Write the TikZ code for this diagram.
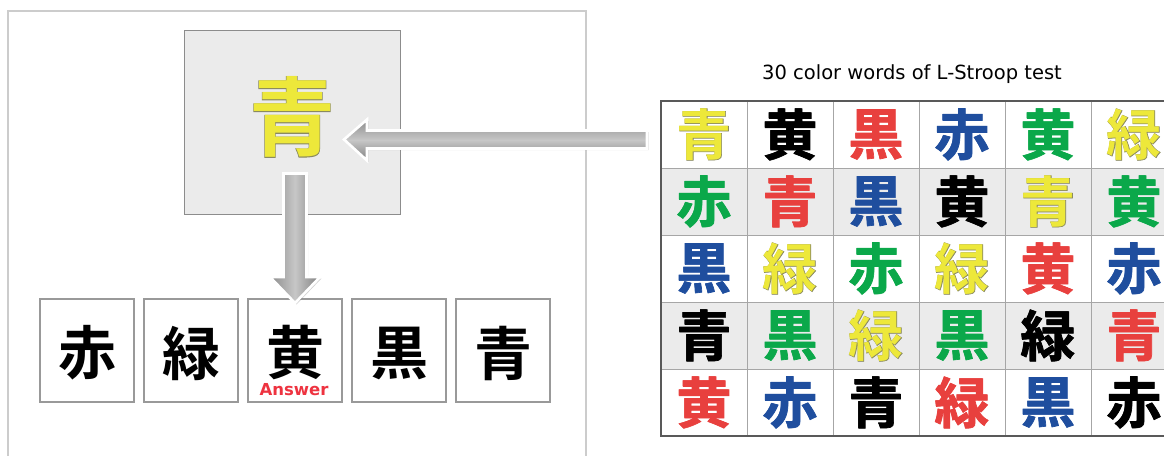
\documentclass[tikz,border=0pt]{standalone}
\usepackage{fontspec}
\setmainfont{DejaVu Sans}
\newfontfamily\jpb{Noto Sans CJK JP Bold}
\newfontfamily\jpout{Noto Sans CJK JP Bold}[FakeBold=1.2]
\usetikzlibrary{shadows}
\definecolor{yel}{HTML}{EDE83A}
\definecolor{yelO}{HTML}{8A8A60}
\definecolor{red}{HTML}{E8403E}
\definecolor{redO}{HTML}{E8403E}
\definecolor{blu}{HTML}{1F4E9E}
\definecolor{bluO}{HTML}{1F4E9E}
\definecolor{grn}{HTML}{0BA84A}
\definecolor{grnO}{HTML}{0BA84A}
\definecolor{blk}{HTML}{000000}
\definecolor{blkO}{HTML}{000000}
\definecolor{panel}{HTML}{EBEBEB}
\definecolor{ansred}{HTML}{EE3340}
\tikzset{
  gch/.style={font=\jpb\fontsize{55}{55}\selectfont, inner sep=0pt},
  bch/.style={font=\jpb\fontsize{58}{58}\selectfont, inner sep=0pt, text=black},
  choice/.style={draw=black!40, line width=1.5pt, fill=white, minimum width=94pt, minimum height=103pt, inner sep=0pt,
     drop shadow={shadow xshift=1pt, shadow yshift=-1pt, opacity=0.25}},
  blockarrow/.style={draw=white, line width=2.6pt, line join=miter,
     drop shadow={shadow xshift=1.5pt, shadow yshift=-1.5pt, opacity=0.35}},
  gridline/.style={draw=black!35, line width=0.8pt},
}
\begin{document}
\begin{tikzpicture}[x=1pt,y=-1pt]
\useasboundingbox (0,0) rectangle (1164,455);
\begin{scope}
\clip (0,0) rectangle (1164,455);
% outer frame
\draw[black!20, line width=2pt] (7.5,11) rectangle (586,470);
% stimulus panel
\node[draw=black!45, line width=1pt, fill=panel, minimum width=216pt, minimum height=184pt, inner sep=0pt] (panel) at (292,122) {};
\node[font=\jpout\fontsize{86}{86}\selectfont, inner sep=0pt, text=yelO] at (292,117) {青};
\node[font=\jpb\fontsize{86}{86}\selectfont, inner sep=0pt, text=yel] (stim) at (292,117) {青};
% choice boxes
\foreach \i/\x/\ch in {1/87/赤,2/191/緑,3/295/黄,4/399/黒,5/503/青}{
  \node[choice] (c\i) at (\x,350.5) {};
  \node[bch] (k\i) at (\x,353) {\ch};
}
\node[font=\bfseries\fontsize{16.5}{16.5}\selectfont, text=ansred, inner sep=0pt] (ans) at (294,390) {Answer};
% title
\node[font=\fontsize{19.5}{19.5}\selectfont, inner sep=0pt] (title) at (912,74) {30 color words of L-Stroop test};
% grid
\fill[panel] (661,168) rectangle (1190,235);
\fill[panel] (661,302) rectangle (1190,369);
\foreach \k in {1,...,5}{ \draw[gridline] ({661+86*\k},101) -- ({661+86*\k},436); }
\foreach \k in {1,...,4}{ \draw[gridline] (661,{101+67*\k}) -- (1190,{101+67*\k}); }
\draw[black!65, line width=1.2pt] (1190,101) -- (661,101) -- (661,436) -- (1190,436);
\foreach \r/\c/\ch/\col in {
  1/1/青/yel,1/2/黄/blk,1/3/黒/red,1/4/赤/blu,1/5/黄/grn,1/6/緑/yel,
  2/1/赤/grn,2/2/青/red,2/3/黒/blu,2/4/黄/blk,2/5/青/yel,2/6/黄/grn,
  3/1/黒/blu,3/2/緑/yel,3/3/赤/grn,3/4/緑/yel,3/5/黄/red,3/6/赤/blu,
  4/1/青/blk,4/2/黒/grn,4/3/緑/yel,4/4/黒/grn,4/5/緑/blk,4/6/青/red,
  5/1/黄/red,5/2/赤/blu,5/3/青/blk,5/4/緑/red,5/5/黒/blu,5/6/赤/blk}{
  \node[gch, text=\col O] (o\r\c) at ({661+86*(\c-0.5)},{101+67*(\r-0.5)}) {\jpout \ch};
  \node[gch, text=\col] (g\r\c) at ({661+86*(\c-0.5)},{101+67*(\r-0.5)}) {\ch};
}
% block arrows
\path[blockarrow, top color=black!45, bottom color=black!50, middle color=black!22]
  (647,130.5) -- (367,130.5) -- (367,119.5) -- (344,139.5) -- (367,160.5) -- (367,148.5) -- (647,148.5) -- cycle;
\path[blockarrow, left color=black!45, right color=black!50, middle color=black!22]
  (283.5,173.5) -- (283.5,277) -- (270,277) -- (295,303) -- (320,277) -- (306.5,277) -- (306.5,173.5) -- cycle;
\end{scope}
\end{tikzpicture}
\end{document}
